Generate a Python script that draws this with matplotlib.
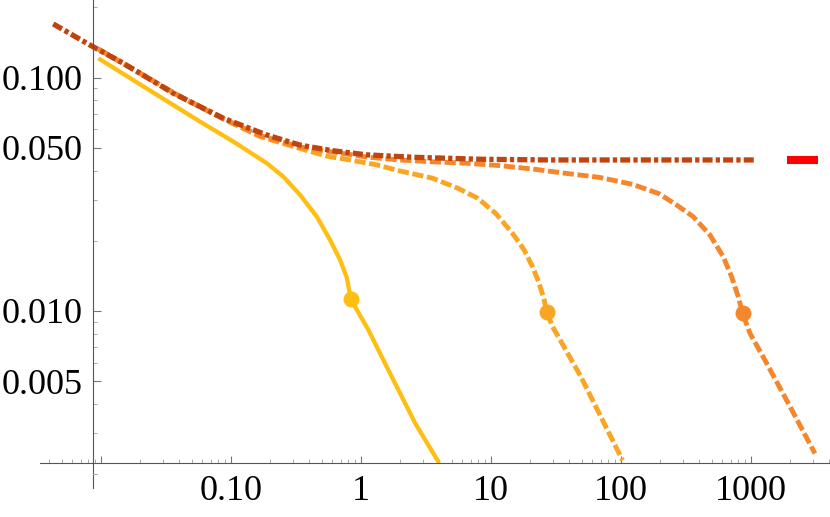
import matplotlib
matplotlib.use("Agg")
import matplotlib.pyplot as plt
from matplotlib.ticker import LogLocator, NullFormatter

plt.rcParams['font.family'] = ['Liberation Serif', 'DejaVu Serif']

# values (log-log)
dd_x = [0.00431, 0.00827, 0.0149, 0.0362, 0.0877, 0.189, 0.341, 0.615, 1.11, 2.52, 8.4, 28.1, 1106]
dd_y = [0.170, 0.138, 0.1153, 0.0857, 0.0670, 0.0568, 0.0514, 0.0486, 0.0467, 0.0456, 0.0447, 0.0444, 0.0444]

yellow_x = [0.00958, 0.0239, 0.0580, 0.1047, 0.189, 0.254, 0.341, 0.459, 0.580, 0.693, 0.780, 0.837,
            1.144, 1.49, 2.62, 4.0]
yellow_y = [0.1211, 0.0881, 0.0648, 0.0532, 0.0430, 0.0376, 0.03143, 0.02536, 0.02015, 0.01655, 0.0139, 0.01122,
            0.00829, 0.00616, 0.0033, 0.00223]

orange1_x = [0.00958, 0.0201, 0.0407, 0.0877, 0.168, 0.341, 0.548, 0.827, 1.327, 1.97, 3.55, 5.57, 7.94, 10.9,
             14.66, 18.04, 20.9, 23.5, 25.7, 26.8, 29.8, 33.5, 49.2, 103]
orange1_y = [0.1327, 0.1044, 0.0831, 0.0665, 0.0559, 0.0497, 0.0461, 0.0444, 0.0423, 0.0399, 0.0371, 0.0336, 0.0304, 0.0262,
             0.02153, 0.01826, 0.01549, 0.01315, 0.01115, 0.00993, 0.00857, 0.00764, 0.00523, 0.00229]

orange2_x = [0.00958, 0.0201, 0.0407, 0.0877, 0.168, 0.341, 0.615, 1.11, 1.97, 3.55, 6.42, 11.6, 20.9, 37.8,
             68.1, 122.8, 197, 268, 360, 484, 612, 710, 799, 863, 983, 1281, 1937, 3105]
orange2_y = [0.1327, 0.1044, 0.0831, 0.0667, 0.0565, 0.0505, 0.0480, 0.0457, 0.0444, 0.0436, 0.0430, 0.0420, 0.0406, 0.0389,
             0.0374, 0.0349, 0.0318, 0.02846, 0.02536, 0.02117, 0.0171, 0.01403, 0.01151, 0.00977, 0.00802, 0.00616,
             0.00402, 0.00245]

mark_x = [0.837, 26.8, 863]
mark_y = [0.01122, 0.00993, 0.00977]

red_x = [1900, 3270]
red_y = [0.0444, 0.0444]

xticks = [0.01, 0.1, 1, 10, 100, 1000]
xlabels = ["", "0.10", "1", "10", "100", "1000"]
yticks = [0.005, 0.01, 0.05, 0.1]
ylabels = ["0.005", "0.010", "0.050", "0.100"]

c_yellow = "#FFBE12"
c_or1 = "#FAA523"
c_or2 = "#F6862B"
c_dd = "#BF440E"

fig = plt.figure(figsize=(8.3, 5.17), dpi=100)
ax = fig.add_axes([40/830, 54/517, 790/830, 463/517])
ax.set_xscale("log")
ax.set_yscale("log")
ax.set_xlim(0.00341, 4055)
ax.set_ylim(0.00223, 0.2153)

ax.plot(yellow_x, yellow_y, color=c_yellow, lw=3.1, solid_capstyle="butt", solid_joinstyle="round")
ax.plot(orange1_x, orange1_y, color=c_or1, lw=3.5, linestyle=(0, (2.3, 0.75)), dash_capstyle="butt")
ax.plot(orange2_x, orange2_y, color=c_or2, lw=3.5, linestyle=(0, (2.3, 0.75)), dash_capstyle="butt")
ax.plot(dd_x, dd_y, color=c_dd, lw=3.8, linestyle=(0, (1.9, 0.6, 0.8, 0.6)), dash_capstyle="butt")
ax.plot(red_x, red_y, color="#FF0000", lw=5.8, solid_capstyle="butt")
for mx, my, mc in zip(mark_x, mark_y, [c_yellow, c_or1, c_or2]):
    ax.plot(mx, my, "o", color=mc, ms=11.5, mec="none", zorder=5)

for s in ["top", "right"]:
    ax.spines[s].set_visible(False)
ax.spines["left"].set_position(("data", 0.00868))
for s in ["left", "bottom"]:
    ax.spines[s].set_color("#555555")
    ax.spines[s].set_linewidth(0.8)

# y axis runs a bit below the x axis, with one more tick there
ax.plot([0.00868, 0.00868], [0.00223, 0.00174], color="#555555", lw=0.8, clip_on=False)
ax.plot([0.00868, 0.00868 * 10 ** (4 / 130)], [0.002, 0.002], color="#aaaaaa", lw=0.7, clip_on=False)

ax.set_xticks(xticks)
ax.set_xticklabels(xlabels)
ax.set_yticks(yticks)
ax.set_yticklabels(ylabels)
ax.xaxis.set_minor_locator(LogLocator(base=10, subs=range(2, 10), numticks=20))
ax.yaxis.set_minor_locator(LogLocator(base=10, subs=range(2, 10), numticks=20))
ax.xaxis.set_minor_formatter(NullFormatter())
ax.yaxis.set_minor_formatter(NullFormatter())

ax.tick_params(which="both", direction="in", labelsize=26, colors="#777777", labelcolor="black")
ax.tick_params(axis="x", which="major", length=5, width=0.8, pad=9)
ax.tick_params(axis="y", which="major", length=6, width=0.8, pad=7)
ax.tick_params(which="minor", length=3, width=0.7, colors="#aaaaaa")

fig.savefig("out.png", dpi=100)
